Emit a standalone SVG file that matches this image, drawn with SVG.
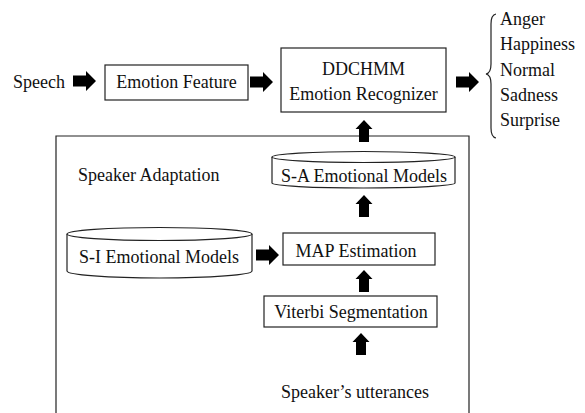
<svg xmlns="http://www.w3.org/2000/svg" xmlns:xlink="http://www.w3.org/1999/xlink" width="585" height="413" viewBox="0 0 585 413">
<style>
text{font-family:"Liberation Serif","Times New Roman",serif;font-size:18px;fill:#111}
.box{fill:#fff;stroke:#222;stroke-width:1.2}
.line{fill:none;stroke:#222;stroke-width:1.2}
.mid{text-anchor:middle}
.arr{fill:#000}
</style>
<defs>
<path id="rarr" d="M0,-5.5 L13,-5.5 L13,-10 L23,0 L13,10 L13,5.5 L0,5.5 Z"/>
<path id="uarr" d="M-5,22 L-5,9 L-8.5,9 L0,0 L8.5,9 L5,9 L5,22 Z"/>
</defs>
<rect width="585" height="413" fill="#fff"/>
<g id="adaptation-frame">
<path class="line" d="M56,414 L56,136 L469,136 L469,414"/>
<text x="78" y="181">Speaker Adaptation</text>
</g>
<g id="speech"><text x="13" y="88">Speech</text></g>
<g id="emotion-feature">
<rect class="box" x="105" y="65" width="143" height="35"/>
<text class="mid" x="176.5" y="88">Emotion Feature</text>
</g>
<g id="recognizer">
<rect class="box" x="281" y="48" width="165" height="64"/>
<text class="mid" x="363.5" y="75">DDCHMM</text>
<text class="mid" x="363.5" y="100">Emotion Recognizer</text>
</g>
<g id="outputs">
<path class="line" d="M496,14 Q491,15 491,24 L491,64 Q491,73 486,74 Q491,75 491,84 L491,128 Q491,137 496,138"/>
<text x="500" y="25">Anger</text>
<text x="500" y="50">Happiness</text>
<text x="500" y="76">Normal</text>
<text x="500" y="101">Sadness</text>
<text x="500" y="126">Surprise</text>
</g>
<g id="sa-models">
<path class="box" d="M272,157 L272,183 A91.5,5 0 0 0 455,183 L455,157"/>
<ellipse class="box" cx="363.5" cy="157" rx="91.5" ry="5.5"/>
<text class="mid" x="364" y="182">S-A Emotional Models</text>
</g>
<g id="si-models">
<path class="box" d="M67,234 L67,271 A92.5,7 0 0 0 252,271 L252,234"/>
<ellipse class="box" cx="159.5" cy="234" rx="92.5" ry="6.5"/>
<text class="mid" x="159" y="263">S-I Emotional Models</text>
</g>
<g id="map">
<rect class="box" x="283" y="233" width="152" height="32"/>
<text class="mid" x="356" y="257">MAP Estimation</text>
</g>
<g id="viterbi">
<rect class="box" x="264" y="296" width="173" height="31"/>
<text class="mid" x="351" y="318">Viterbi Segmentation</text>
</g>
<g id="utterances"><text class="mid" x="355" y="398">Speaker’s utterances</text></g>
<g id="connectors" class="arr">
<use xlink:href="#rarr" href="#rarr" x="73" y="81"/>
<use xlink:href="#rarr" href="#rarr" x="250" y="82"/>
<use xlink:href="#rarr" href="#rarr" x="456" y="82"/>
<use xlink:href="#rarr" href="#rarr" x="256" y="255"/>
<use xlink:href="#uarr" href="#uarr" x="364" y="120"/>
<use xlink:href="#uarr" href="#uarr" x="364" y="195"/>
<use xlink:href="#uarr" href="#uarr" x="364" y="270"/>
<use xlink:href="#uarr" href="#uarr" x="361" y="333"/>
</g>
</svg>
